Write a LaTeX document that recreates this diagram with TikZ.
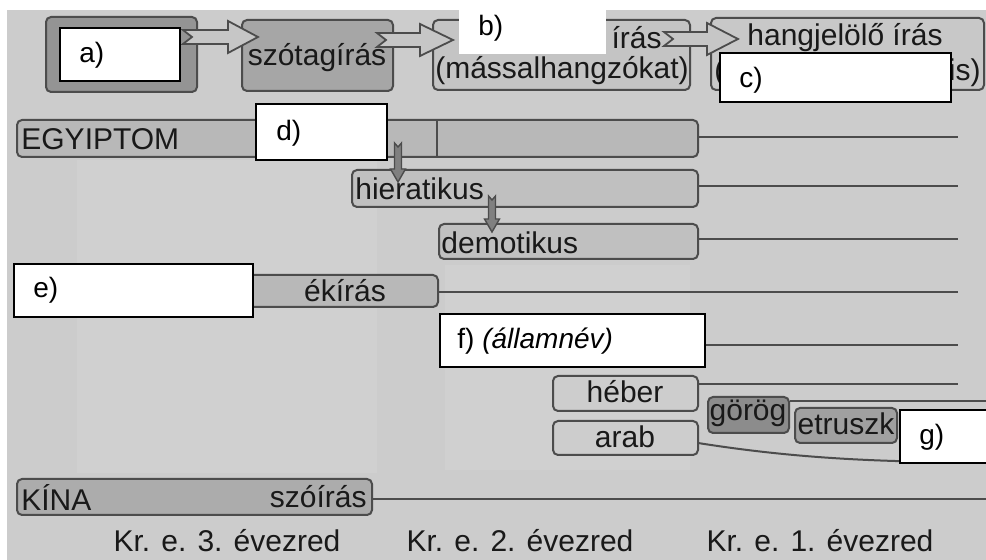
\documentclass[tikz,border=0pt]{standalone}
\usepackage{fontspec}
\setmainfont{Liberation Sans}
\usetikzlibrary{fit,calc}
\definecolor{bgc}{gray}{0.80}
\definecolor{bglight}{gray}{0.815}
\definecolor{edgec}{gray}{0.30}
\definecolor{txt}{gray}{0.10}
\tikzset{
  fitbox/.style={draw=edgec, line width=1pt, rounded corners=2.5pt, inner sep=0pt},
  whitebox/.style={draw=black, line width=0.6pt, fill=white, inner sep=0pt},
  plainwhite/.style={fill=white, inner sep=0pt},
  word/.style={font=\fontsize{15}{17}\selectfont, text=txt, inner sep=0pt},
  lbl/.style={font=\fontsize{14}{16}\selectfont, text=black, inner sep=0pt},
  tline/.style={draw=edgec, line width=1pt},
  fatarr/.style={draw=edgec, line width=0.9pt, fill=gray!45!white, line join=miter},
  smallarr/.style={draw=edgec, line width=0.7pt, fill=gray},
}
\newcommand\fatarrow[3]{% tail, tip, head length
  \draw[fatarr] ($(#1)+(0,-7)$) -- ($(#2)+(-#3,-7)$) -- ($(#2)+(-#3,-16)$) -- (#2)
    -- ($(#2)+(-#3,16)$) -- ($(#2)+(-#3,7)$) -- ($(#1)+(0,7)$) -- ($(#1)+(9,0)$) -- cycle;}
\newcommand\dnarrow[2]{% top, tip
  \draw[smallarr] ($(#1)+(-3.5,0)$) -- ($(#1)+(0,4)$) -- ($(#1)+(3.5,0)$) -- ($(#2)+(3.5,-13)$)
    -- ($(#2)+(7.5,-13)$) -- (#2) -- ($(#2)+(-7.5,-13)$) -- ($(#2)+(-3.5,-13)$) -- cycle;}
\begin{document}
\begin{tikzpicture}[x=0.5pt,y=-0.5pt]
\useasboundingbox (0,0) rectangle (986,560);
\fill[white] (0,0) rectangle (986,560);
\fill[bgc] (7,10) rectangle (986,560);
\fill[bglight] (77,160) rectangle (377,473);
\fill[bglight] (445,265) rectangle (690,470);

% ---- top row ----
\node[fitbox, fill={rgb,255:red,148;green,148;blue,148}, fit={(46,17) (197,92)}] (boxa) {};
\node[fitbox, fill={rgb,255:red,166;green,166;blue,166}, fit={(242,20) (393,91)}] (boxsz) {};
\node[word] (tsz) at (317,58) {szótagírás};
\node[fitbox, fill={rgb,255:red,196;green,196;blue,196}, fit={(433,20) (690,90)}] (boxb) {};
\node[word, anchor=east] (tiras) at (662,38) {írás};
\node[word] (tmass) at (562,71) {(mássalhangzókat)};
\node[fitbox, fill={rgb,255:red,200;green,200;blue,200}, fit={(711,18) (984,90)}] (boxc) {};
\node[word] (thang) at (845,38) {hangjelölő írás};
\node[word, anchor=west] (tpar) at (714,73) {(};
\node[word, anchor=east] (tis) at (981,73) {is)};

\coordinate (a1t) at (183,37);  \coordinate (a1h) at (258,37);
\coordinate (a2t) at (377,40);  \coordinate (a2h) at (453,40);
\coordinate (a3t) at (664,39);  \coordinate (a3h) at (738,39);
\fatarrow{a1t}{a1h}{30}
\fatarrow{a2t}{a2h}{33}
\fatarrow{a3t}{a3h}{31}

\node[whitebox, fit={(60,28) (180,81)}] (wa) {};
\node[lbl, anchor=west] (la) at (79,55) {a)};
\node[plainwhite, fit={(459,0) (606,54)}] (wb) {};
\node[lbl, anchor=west] (lb) at (478,28) {b)};
\node[whitebox, fit={(720,53) (951,102)}] (wc) {};
\node[lbl, anchor=west] (lc) at (739,80) {c)};

% ---- Egyiptom ----
\node[fitbox, fill={rgb,255:red,184;green,184;blue,184}, fit={(17,120) (698,157)}] (egy) {};
\draw[edgec, line width=1pt] (437,120) -- (437,157);
\node[word, anchor=west] (tegy) at (21,139) {EGYIPTOM};
\coordinate (egyE) at (958,137);
\draw[tline] (egy.east |- egyE) -- (egyE);

\node[fitbox, fill={rgb,255:red,192;green,192;blue,192}, fit={(352,170) (698,207)}] (hier) {};
\node[word, anchor=west] (thier) at (355,189) {hieratikus};
\coordinate (hierE) at (958,186);
\draw[tline] (hier.east |- hierE) -- (hierE);

\node[fitbox, fill={rgb,255:red,192;green,192;blue,192}, fit={(439,224) (698,259)}] (demo) {};
\node[word, anchor=west] (tdemo) at (441,243) {demotikus};
\coordinate (demoE) at (958,239);
\draw[tline] (demo.east |- demoE) -- (demoE);

\coordinate (d1t) at (398,143); \coordinate (d1h) at (398,182);
\coordinate (d2t) at (492,196); \coordinate (d2h) at (492,232);
\dnarrow{d1t}{d1h}
\dnarrow{d2t}{d2h}

\node[whitebox, fit={(256,104) (387,160)}] (wd) {};
\node[lbl, anchor=west] (ld) at (276,133) {d)};

% ---- ékírás ----
\node[fitbox, fill={rgb,255:red,184;green,184;blue,184}, fit={(240,275) (438,307)}] (eki) {};
\node[word] (teki) at (345,291) {ékírás};
\coordinate (ekiE) at (958,292);
\draw[tline] (eki.east |- ekiE) -- (ekiE);
\node[whitebox, fit={(14,264) (253,317)}] (we) {};
\node[lbl, anchor=west] (le) at (33,290) {e)};

% ---- f ----
\node[whitebox, fit={(440,314) (705,367)}] (wf) {};
\node[lbl, anchor=west] (lf) at (457,341) {f) \textit{(államnév)}};
\coordinate (fE) at (958,345);
\draw[tline] (wf.east |- fE) -- (fE);

% ---- héber / arab ----
\node[fitbox, fill={rgb,255:red,205;green,205;blue,205}, fit={(553,376) (698,411)}] (heb) {};
\node[word] (theb) at (625,392) {héber};
\coordinate (hebE) at (958,384);
\draw[tline] (heb.east |- hebE) -- (hebE);

\node[fitbox, fill={rgb,255:red,205;green,205;blue,205}, fit={(553,421) (698,455)}] (arab) {};
\node[word] (tarab) at (625,437) {arab};
\coordinate (arabS) at (698,443);
\coordinate (arabE) at (965,462);
\draw[tline] (arabS) .. controls (780,456) and (860,462) .. (arabE);

\node[fitbox, fill={rgb,255:red,140;green,140;blue,140}, fit={(708,397) (789,433)}] (gor) {};
\node[word] (tgor) at (748,413) {görög};
\coordinate (gorE) at (986,401);
\draw[tline] (gor.east |- gorE) -- (gorE);
\node[fitbox, fill={rgb,255:red,160;green,160;blue,160}, fit={(795,408) (897,443)}] (etr) {};
\node[word] (tetr) at (846,424) {etruszk};
\node[whitebox, fit={(900,410) (990,463)}] (wg) {};
\node[lbl, anchor=west] (lg) at (919,437) {g)};

% ---- Kína ----
\node[fitbox, fill={rgb,255:red,172;green,172;blue,172}, fit={(17,479) (372,515)}] (kina) {};
\node[word, anchor=west] (tkina) at (21,497) {KÍNA};
\node[word, anchor=east] (tszo) at (367,497) {szóírás};
\coordinate (kinaE) at (986,499);
\draw[tline] (kina.east |- kinaE) -- (kinaE);

% ---- bottom ----
\node[word] (k3) at (227,541) {Kr. e. 3. évezred};
\node[word] (k2) at (520,541) {Kr. e. 2. évezred};
\node[word] (k1) at (820,541) {Kr. e. 1. évezred};
\end{tikzpicture}
\end{document}
